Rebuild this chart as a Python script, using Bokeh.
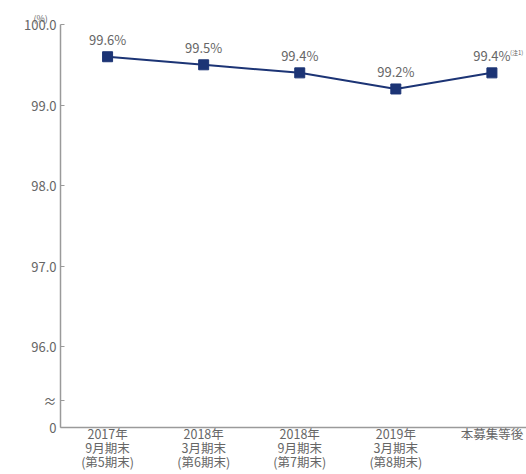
from bokeh.plotting import figure
from bokeh.models import Range1d, FixedTicker, Label, ColumnDataSource
from bokeh.core.properties import value
from bokeh.embed import file_html
from bokeh.resources import INLINE

categories = ["2017年\n9月期末\n(第5期末)", "2018年\n3月期末\n(第6期末)", "2018年\n9月期末\n(第7期末)",
              "2019年\n3月期末\n(第8期末)", "本募集等後"]
values = [99.6, 99.5, 99.4, 99.2, 99.4]
point_labels = ["99.6%", "99.5%", "99.4%", "99.2%", "99.4%"]
y_ticks = [95, 95.33, 96, 97, 98, 99, 100]
y_tick_labels = ["0", "≈", "96.0", "97.0", "98.0", "99.0", "100.0"]

FONT = "Noto Sans CJK JP"
GRAY = "#666666"
NAVY = "#1c3475"

xs = list(range(len(categories)))
p = figure(width=526, height=474, output_backend="svg", toolbar_location=None,
           x_range=Range1d(-0.49, 4.36), y_range=Range1d(95, 100),
           min_border_left=60, min_border_right=0, min_border_top=24, min_border_bottom=40,
           title="(%)")
p.title.align = "left"
p.title.offset = -27
p.title.text_font = FONT
p.title.text_font_size = "9px"
p.title.text_font_style = "normal"
p.title.text_color = GRAY
p.title.standoff = 0
p.outline_line_color = None
p.xgrid.visible = False
p.ygrid.visible = False
p.background_fill_color = "white"

p.yaxis.ticker = FixedTicker(ticks=y_ticks)
p.yaxis.major_label_overrides = {t: l for t, l in zip(y_ticks, y_tick_labels)}
p.yaxis.major_tick_in = 4
p.yaxis.major_tick_out = 0
p.yaxis.minor_tick_line_color = None
p.yaxis.axis_line_color = "#9a9a9a"
p.yaxis.axis_line_width = 1.5
p.yaxis.major_tick_line_color = "#9a9a9a"
p.yaxis.major_label_text_font = FONT
p.yaxis.major_label_text_font_size = "13px"
p.yaxis.major_label_text_color = GRAY
p.yaxis.major_label_standoff = 4

p.xaxis.ticker = FixedTicker(ticks=xs)
p.xaxis.major_label_overrides = {i: c for i, c in zip(xs, categories)}
p.xaxis.major_tick_line_color = None
p.xaxis.minor_tick_line_color = None
p.xaxis.axis_line_color = "#9a9a9a"
p.xaxis.axis_line_width = 1.5
p.xaxis.major_label_text_font = FONT
p.xaxis.major_label_text_font_size = "12.5px"
p.xaxis.major_label_text_color = GRAY
p.xaxis.major_label_standoff = -10
p.xaxis.major_label_text_line_height = 0.76

src = ColumnDataSource(dict(x=xs, y=values, t=point_labels))
p.line("x", "y", source=src, line_color=NAVY, line_width=2)
p.scatter("x", "y", source=src, marker="square", size=10, fill_color=NAVY, line_color=NAVY)
p.text("x", "y", text="t", source=src, text_font=value(FONT), text_font_size="13px",
       text_color=GRAY, text_align="center", text_baseline="bottom", y_offset=-8)

p.add_layout(Label(x=4, y=values[4], text="(注1)", text_font=FONT, text_font_size="6px",
                   text_color=GRAY, x_offset=18, y_offset=16, text_align="left"))

open("out.html", "w").write(file_html(p, INLINE))
